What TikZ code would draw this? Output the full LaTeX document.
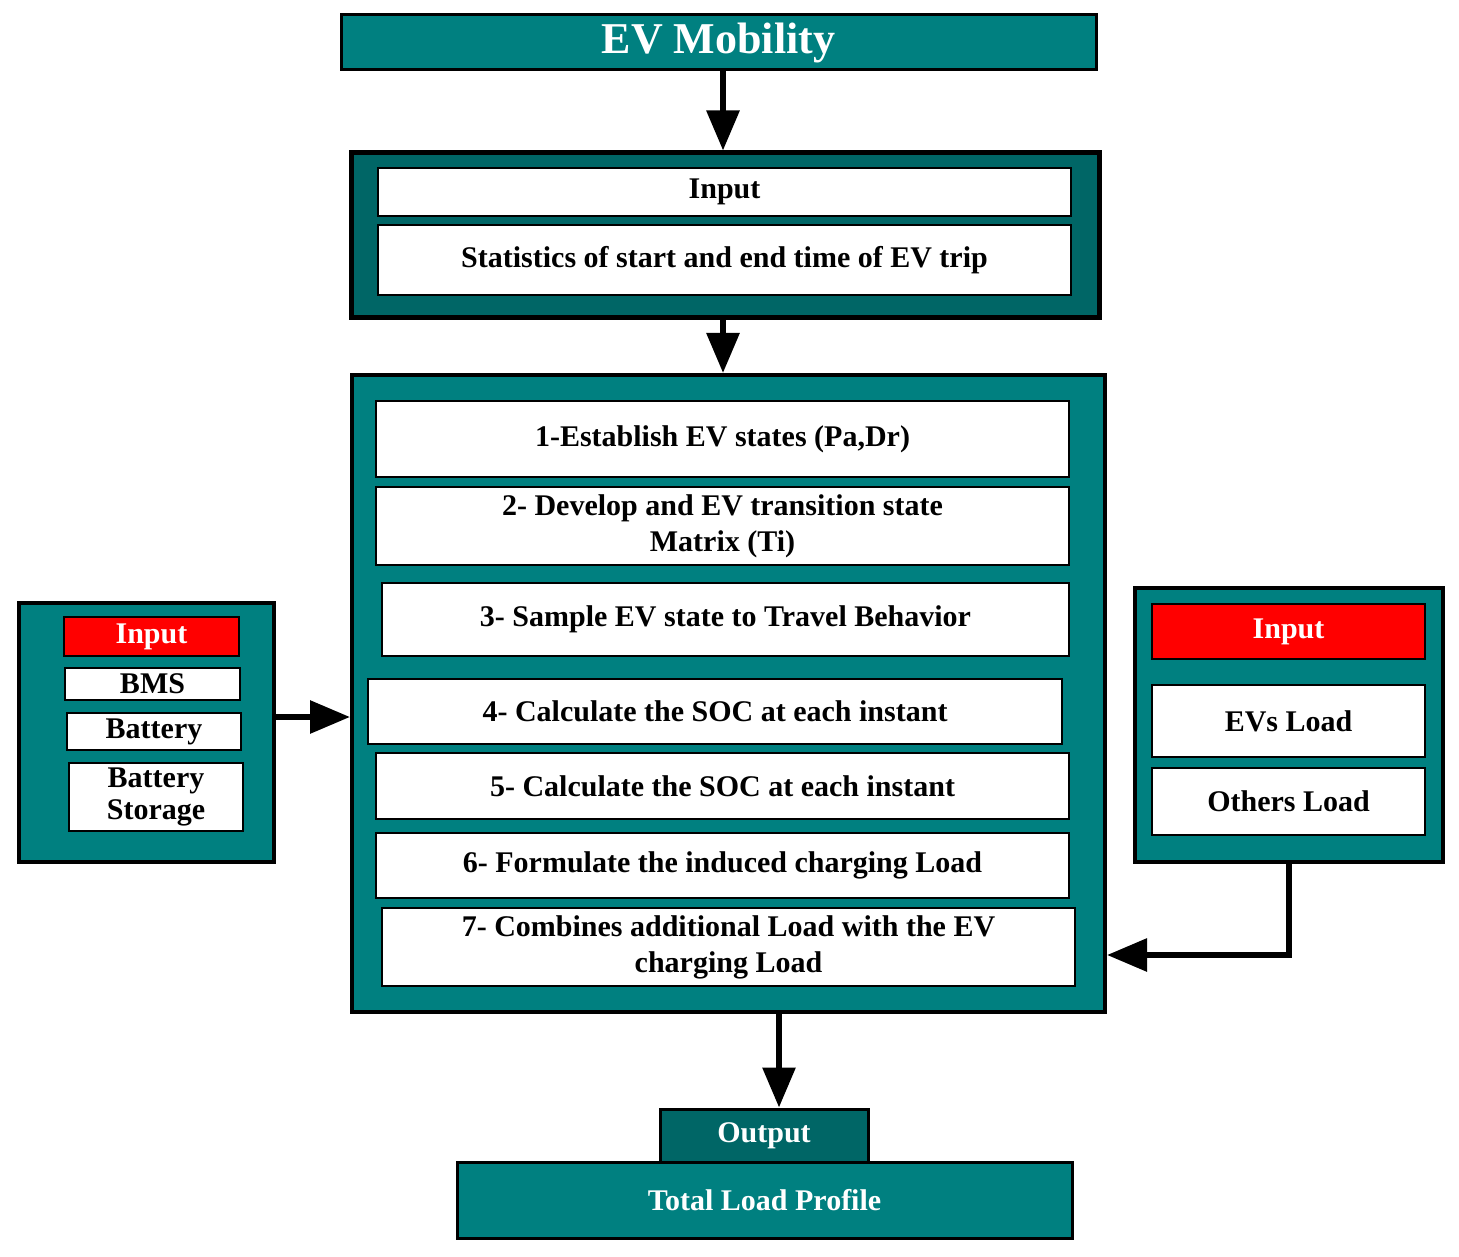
\documentclass[tikz,border=0pt]{standalone}
\usepackage{fontspec}
\setmainfont{Liberation Serif}
\usetikzlibrary{arrows.meta}
\definecolor{teal1}{HTML}{008080}
\definecolor{teal2}{HTML}{006666}
\definecolor{red1}{HTML}{FF0000}
\newcommand\bx[7]{\node[#1, minimum width={(#4-#2)*0.5pt}, minimum height={(#5-#3)*0.5pt}] (#6) at ({(#2+#4)/2},{(#3+#5)/2}) {#7};}
\tikzset{
 grp/.style={draw=black, fill=teal1, line width=2pt, inner sep=0pt},
 dgrp/.style={draw=black, fill=teal2, line width=2.5pt, inner sep=0pt},
 wbox/.style={draw=black, fill=white, line width=1.3pt, inner sep=0pt, align=center, font=\bfseries\fontsize{15}{18}\selectfont},
 rbox/.style={draw=black, fill=red1, line width=1.3pt, inner sep=0pt, text=white, font=\bfseries\fontsize{15}{18}\selectfont},
 tbox/.style={draw=black, fill=teal1, line width=1.5pt, inner sep=0pt, text=white, font=\bfseries\fontsize{15}{18}\selectfont},
 arr/.style={line width=3pt, -{Triangle[length=20pt,width=16pt]}},
}
\begin{document}
\begin{tikzpicture}[x=0.5pt,y=-0.5pt]
\useasboundingbox (0,0) rectangle (1459,1256);
\bx{tbox,font=\bfseries\fontsize{22}{26}\selectfont}{341}{15}{1096}{70}{ev}{EV Mobility}
\bx{dgrp}{351}{153}{1099}{318}{g1}{}
\bx{wbox}{378}{168}{1071}{216}{in1}{Input}
\bx{wbox}{378}{225}{1071}{295}{stat}{Statistics of start and end time of EV trip}
\bx{grp}{352}{375}{1105}{1012}{main}{}
\bx{wbox}{376}{401}{1069}{477}{s1}{1-Establish EV states (Pa,Dr)}
\bx{wbox}{376}{487}{1069}{565}{s2}{2- Develop and EV transition state\\Matrix (Ti)}
\bx{wbox}{382}{583}{1069}{656}{s3}{3- Sample EV state to Travel Behavior}
\bx{wbox}{368}{679}{1062}{744}{s4}{4- Calculate the SOC at each instant}
\bx{wbox}{376}{753}{1069}{819}{s5}{5- Calculate the SOC at each instant}
\bx{wbox}{376}{833}{1069}{898}{s6}{6- Formulate the induced charging Load}
\bx{wbox}{382}{908}{1075}{986}{s7}{7- Combines additional Load with the EV\\charging Load}
\bx{grp}{19}{603}{274}{862}{lg}{}
\bx{rbox}{64}{617}{239}{656}{lin}{Input}
\bx{wbox}{65}{668}{240}{700}{bms}{BMS}
\bx{wbox}{67}{713}{241}{750}{bat}{Battery}
\bx{wbox,font=\bfseries\fontsize{15}{16}\selectfont}{69}{763}{243}{831}{bs}{Battery\\Storage}
\bx{grp}{1135}{588}{1443}{862}{rg}{}
\bx{rbox}{1152}{604}{1425}{659}{rin}{Input}
\bx{wbox}{1152}{685}{1425}{757}{evl}{EVs Load}
\bx{wbox}{1152}{768}{1425}{835}{oth}{Others Load}
\bx{tbox,fill=teal2}{660}{1109}{868}{1162}{out}{Output}
\bx{tbox}{457}{1162}{1072}{1238}{tot}{Total Load Profile}
\draw[arr] (ev.south -| 723,0) -- (g1.north -| 723,0);
\draw[arr] (g1.south -| 723,0) -- (main.north -| 723,0);
\draw[arr] (lg.east |- 0,717) -- (main.west |- 0,717);
\draw[arr] (rg.south -| 1289,0) |- (main.east |- 0,955);
\draw[arr] (main.south -| 779,0) -- (out.north -| 779,0);
\end{tikzpicture}
\end{document}
